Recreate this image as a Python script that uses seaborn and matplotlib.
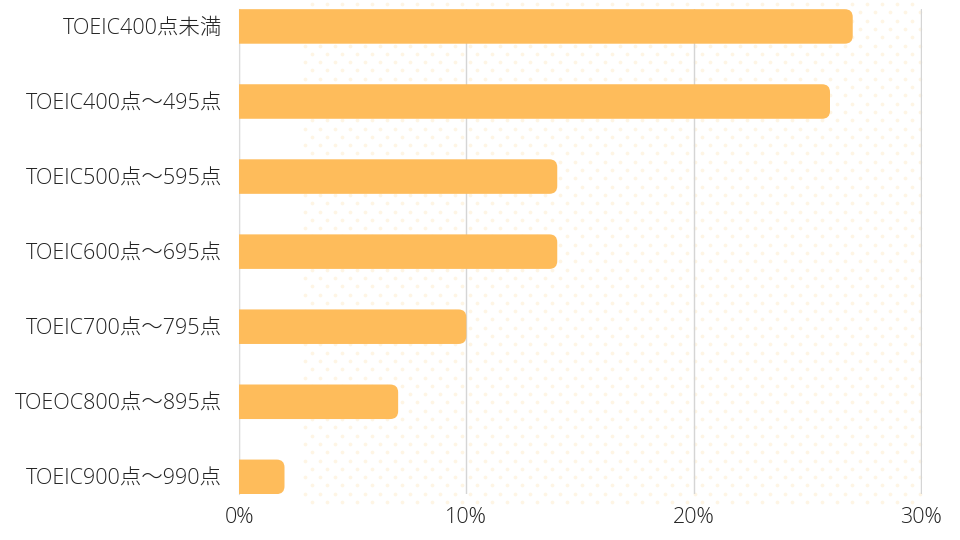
import matplotlib
matplotlib.use('Agg')
import matplotlib.pyplot as plt
from matplotlib.patches import FancyBboxPatch
import seaborn as sns
import pandas as pd
import numpy as np

# データ
categories = ['TOEIC400点未満', 'TOEIC400点〜495点', 'TOEIC500点〜595点', 'TOEIC600点〜695点',
              'TOEIC700点〜795点', 'TOEOC800点〜895点', 'TOEIC900点〜990点']
shares = [27, 26, 14, 14, 10, 7, 2]
xticks = [0, 10, 20, 30]

df = pd.DataFrame({'cat': categories, 'share': shares})

sns.set_style('white')
plt.rcParams['font.family'] = ['Open Sans', 'Noto Sans CJK JP', 'DejaVu Sans']

bar_color = '#FEBC5B'
fig = plt.figure(figsize=(9.6, 5.4), dpi=100)

# 背景のドット模様（装飾）
bg = fig.add_axes([0, 0, 1, 1], zorder=-1)
bg.set_xlim(0, 960)
bg.set_ylim(540, 0)
bg.axis('off')
rows = np.arange(4, 506, 8.3)
pts = []
for i, yy in enumerate(rows):
    start = 312 if i % 2 == 0 else 304.5
    for xx in np.arange(start, 924, 15):
        pts.append((xx, yy))
pts = np.array(pts)
bg.scatter(pts[:, 0], pts[:, 1], s=7, color='#FEF5E4', linewidths=0)

ax = fig.add_axes([0.249, 0.085, 0.711, 0.898])
ax.patch.set_alpha(0)

sns.barplot(data=df, x='share', y='cat', orient='h', color=bar_color, width=0.46,
            saturation=1, ax=ax, zorder=3)

# 角丸バーに置き換える
for p in list(ax.patches):
    x0, y0, w, h = p.get_x(), p.get_y(), p.get_width(), p.get_height()
    p.remove()
    r = 0.35
    box = FancyBboxPatch((x0 - 1, y0), w + 1, h, boxstyle=f'round,pad=0,rounding_size={r}',
                         mutation_aspect=0.3, fc=bar_color, ec='none', zorder=3, clip_on=True)
    ax.add_patch(box)

ax.set_xlim(0, 30.03)
ax.set_ylim(6.23, -0.23)
ax.set_xticks(xticks)
ax.set_xticklabels([f'{t}%' for t in xticks])
ax.xaxis.grid(True, color='#d5d5d5', linewidth=1, zorder=0)
ax.set_axisbelow(True)
ax.set_xlabel('')
ax.set_ylabel('')
for s in ['top', 'right', 'bottom']:
    ax.spines[s].set_visible(False)
ax.spines['left'].set_color('#dcdcdc')
ax.tick_params(axis='y', length=0, labelsize=15.5, colors='#222222', pad=12)
ax.tick_params(axis='x', length=0, labelsize=15.5, colors='#222222', pad=9)
for lbl in ax.get_yticklabels() + ax.get_xticklabels():
    lbl.set_fontweight('light')

fig.savefig('out.png', dpi=100)
